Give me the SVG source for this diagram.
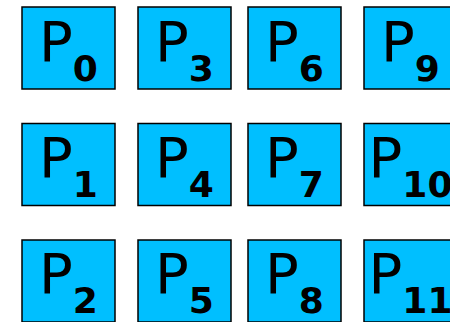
<svg xmlns="http://www.w3.org/2000/svg" width="450" height="322" viewBox="0 0 450 322">
<style>
.b{fill:#00bfff;stroke:#000;stroke-width:1.5}
.t{font-family:"DejaVu Sans",sans-serif;font-size:56px;fill:#000;text-anchor:middle}
.s{font-size:36px;font-weight:bold}
</style>
<g id="P0"><rect class="b" x="22" y="7" width="93" height="82"/><text class="t" x="68.5" y="61">P<tspan class="s" dy="20">0</tspan></text></g>
<g id="P3"><rect class="b" x="138" y="7" width="93" height="82"/><text class="t" x="184.5" y="61">P<tspan class="s" dy="20">3</tspan></text></g>
<g id="P6"><rect class="b" x="248" y="7" width="93" height="82"/><text class="t" x="294.5" y="61">P<tspan class="s" dy="20">6</tspan></text></g>
<g id="P9"><rect class="b" x="364" y="7" width="93" height="82"/><text class="t" x="410.5" y="61">P<tspan class="s" dy="20">9</tspan></text></g>
<g id="P1"><rect class="b" x="22" y="123.5" width="93" height="82"/><text class="t" x="68.5" y="177">P<tspan class="s" dy="20">1</tspan></text></g>
<g id="P4"><rect class="b" x="138" y="123.5" width="93" height="82"/><text class="t" x="184.5" y="177">P<tspan class="s" dy="20">4</tspan></text></g>
<g id="P7"><rect class="b" x="248" y="123.5" width="93" height="82"/><text class="t" x="294.5" y="177">P<tspan class="s" dy="20">7</tspan></text></g>
<g id="P10"><rect class="b" x="364" y="123.5" width="93" height="82"/><text class="t" x="410.5" y="177">P<tspan class="s" dy="20">10</tspan></text></g>
<g id="P2"><rect class="b" x="22" y="240" width="93" height="82"/><text class="t" x="68.5" y="293">P<tspan class="s" dy="20">2</tspan></text></g>
<g id="P5"><rect class="b" x="138" y="240" width="93" height="82"/><text class="t" x="184.5" y="293">P<tspan class="s" dy="20">5</tspan></text></g>
<g id="P8"><rect class="b" x="248" y="240" width="93" height="82"/><text class="t" x="294.5" y="293">P<tspan class="s" dy="20">8</tspan></text></g>
<g id="P11"><rect class="b" x="364" y="240" width="93" height="82"/><text class="t" x="410.5" y="293">P<tspan class="s" dy="20">11</tspan></text></g>
<g id="connectors"/>
</svg>
